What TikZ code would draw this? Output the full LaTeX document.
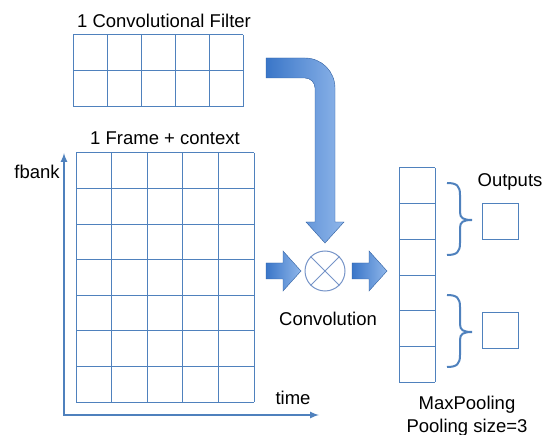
\documentclass[tikz,border=0pt]{standalone}
\usepackage{fontspec}
\setmainfont{Liberation Sans}
\usetikzlibrary{arrows}

\definecolor{gridblue}{RGB}{79,129,189}
\definecolor{ringblue}{RGB}{118,148,200}
\definecolor{arrowdark}{RGB}{58,118,200}
\definecolor{arrowlight}{RGB}{143,182,234}

\tikzset{
  cell/.style={draw=gridblue, line width=1pt},
  lbl/.style={font=\fontsize{18.5}{23}\selectfont, inner sep=0pt},
  bigarrow/.style={left color=arrowdark, right color=arrowlight, draw=arrowdark!80!black, line width=0.4pt},
  axis/.style={gridblue, line width=2pt, >=latex},
  pool/.style={gridblue, line width=2pt},
}

\begin{document}
\begin{tikzpicture}[x=1pt, y=-1pt]
\useasboundingbox (0,0) rectangle (546,435);

% filter, 5 x 2
\node[lbl] (filtertitle) at (164,21) {1 Convolutional Filter};
\foreach \i in {0,...,5}
  \draw[cell] (73+\i*34,35) -- ++(0,72);
\foreach \j in {0,1,2}
  \draw[cell] (73,35+\j*36) -- ++(170,0);

% input frame, 5 x 7
\node[lbl] (frametitle) at (165,138) {1 Frame + context};
\foreach \i in {0,...,5}
  \draw[cell] (76+\i*35.6,153) -- ++(0,249.2);
\foreach \j in {0,...,7}
  \draw[cell] (76,153+\j*35.6) -- ++(178,0);

% axes
\draw[axis, <->] (64,153) |- (319,415);
\node[lbl] (fbank) at (37,172) {fbank};
\node[lbl] (time) at (293,398) {time};

% bent arrow from the filter down to the product
\shadedraw[bigarrow] (266,58) -- (305,58)
  .. controls (321.6,58) and (335,71.4) .. (335,88)
  -- (335,222) -- (344,222) -- (325,243) -- (306,222) -- (315,222) -- (315,88)
  .. controls (315,82.5) and (310.5,78) .. (305,78)
  -- (266,78) -- cycle;

% convolution
\node[circle, draw=ringblue, line width=1pt, minimum size=40pt, inner sep=0pt] (conv) at (325,271) {};
\draw[ringblue, line width=1pt] (conv.north west) -- (conv.south east)
  (conv.north east) -- (conv.south west);
\node[lbl] (convlbl) at (328,319) {Convolution};

\shadedraw[bigarrow] (266,263) -- (283,263) -- (283,251) -- (301,271)
  -- (283,291) -- (283,279) -- (266,279) -- cycle;
\shadedraw[bigarrow] (352,263) -- (369,263) -- (369,251) -- (387,271)
  -- (369,291) -- (369,279) -- (352,279) -- cycle;

% feature column
\foreach \j in {0,...,6}
  \draw[cell] (399,168+\j*35.67) -- ++(36,0);
\draw[cell] (399,168) -- ++(0,214) (435,168) -- ++(0,214);

% max pooling, two groups of three
\foreach \y in {183,295}
  \draw[pool] (447,\y) .. controls (457,\y) and (460,\y+3) .. (460,\y+12)
    -- (460,\y+29) .. controls (460,\y+35) and (463,\y+37) .. (472,\y+37)
    .. controls (463,\y+37) and (460,\y+39) .. (460,\y+45)
    -- (460,\y+60) .. controls (460,\y+69) and (457,\y+72) .. (447,\y+72);
\node[cell, minimum size=36pt, inner sep=0pt] (out1) at (500,222) {};
\node[cell, minimum size=36pt, inner sep=0pt] (out2) at (500,331) {};
\node[lbl] (outlbl) at (510,182) {Outputs};
\node[lbl, align=center] (poollbl) at (467,416) {MaxPooling\\Pooling size=3};
\end{tikzpicture}
\end{document}
